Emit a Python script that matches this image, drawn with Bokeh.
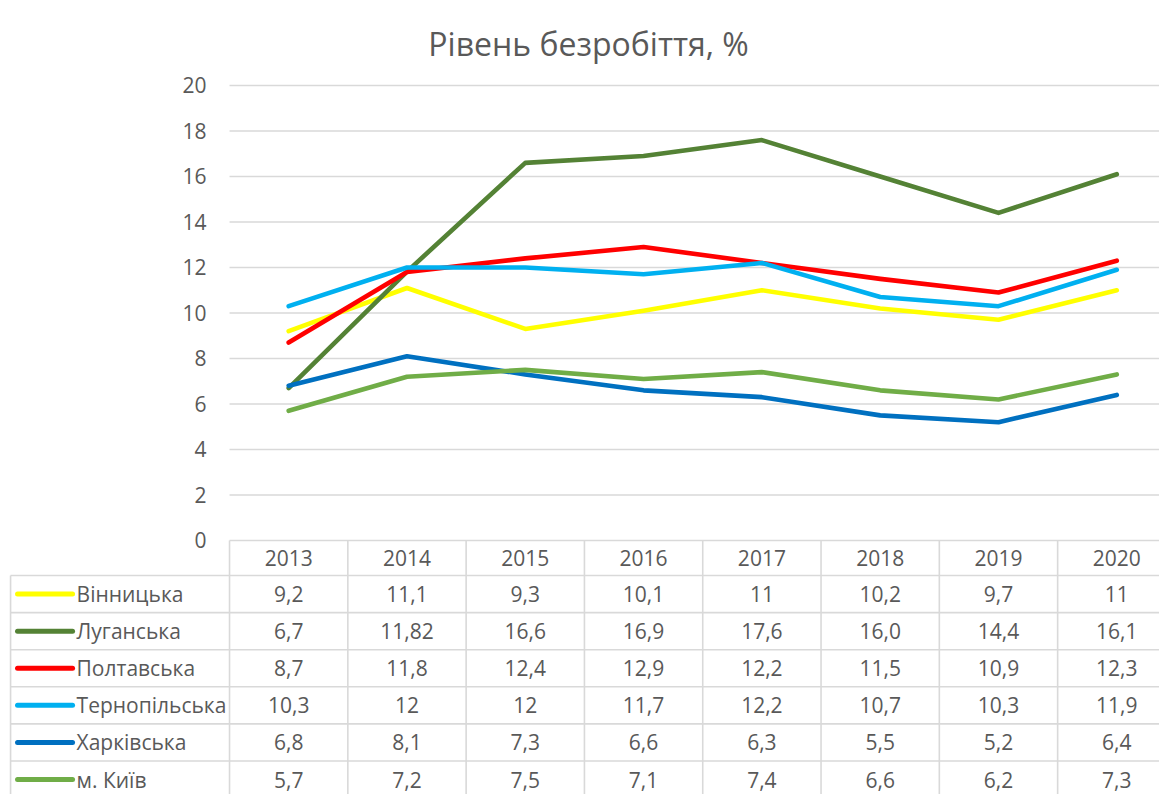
from bokeh.plotting import figure
from bokeh.models import Range1d
from bokeh.core.properties import value
from bokeh.embed import file_html
from bokeh.resources import INLINE

# ---------------- data ----------------
title = "Рівень безробіття, %"
years = ["2013", "2014", "2015", "2016", "2017", "2018", "2019", "2020"]
series_names = ["Вінницька", "Луганська", "Полтавська", "Тернопільська", "Харківська", "м. Київ"]
vinnytska = ["9,2", "11,1", "9,3", "10,1", "11", "10,2", "9,7", "11"]
luhanska = ["6,7", "11,82", "16,6", "16,9", "17,6", "16,0", "14,4", "16,1"]
poltavska = ["8,7", "11,8", "12,4", "12,9", "12,2", "11,5", "10,9", "12,3"]
ternopilska = ["10,3", "12", "12", "11,7", "12,2", "10,7", "10,3", "11,9"]
kharkivska = ["6,8", "8,1", "7,3", "6,6", "6,3", "5,5", "5,2", "6,4"]
kyiv = ["5,7", "7,2", "7,5", "7,1", "7,4", "6,6", "6,2", "7,3"]
series_labels = [vinnytska, luhanska, poltavska, ternopilska, kharkivska, kyiv]
colors = ["#FFFF00", "#548235", "#FF0000", "#00B0F0", "#0070C0", "#70AD47"]
y_ticks = [0, 2, 4, 6, 8, 10, 12, 14, 16, 18, 20]

FONT = "Open Sans"
TXT = "#595959"
GRID = "#D9D9D9"
FS = "21px"

def num(s):
    return float(s.replace(",", "."))

ncols = len(years)
nrows = len(series_names)
xs = [i + 0.5 for i in range(ncols)]

# one figure: value axis (default y range) + data table (extra y range, rows)
p = figure(width=1159, height=794, x_range=Range1d(-1.936, 7.861), y_range=Range1d(-11.165, 23.736),
           output_backend="svg", toolbar_location=None, x_axis_location=None, y_axis_location=None,
           min_border_left=0, min_border_right=0, min_border_top=0, min_border_bottom=0)
p.extra_y_ranges = {"table": Range1d(5.903, -15.499)}
p.outline_line_color = None
p.xgrid.visible = False
p.ygrid.visible = False
p.background_fill_color = "white"
p.border_fill_color = "white"

# value gridlines and tick labels
p.segment(x0=[0] * len(y_ticks), y0=y_ticks, x1=[8.5] * len(y_ticks), y1=y_ticks,
          line_color=GRID, line_width=1.4)
p.text(x=[-0.194] * len(y_ticks), y=y_ticks, text=[str(v) for v in y_ticks],
       text_align="right", text_baseline="middle",
       text_font=value(FONT), text_font_size=FS, text_color=TXT)

# table borders
left_x = -1.851
hy = list(range(nrows + 1))
p.segment(x0=[left_x] * len(hy), y0=hy, x1=[8.5] * len(hy), y1=hy,
          line_color=GRID, line_width=1.6, y_range_name="table")
vx = list(range(ncols + 1))
p.segment(x0=vx, y0=[-0.943] * len(vx), x1=vx, y1=[nrows + 0.5] * len(vx),
          line_color=GRID, line_width=1.6, y_range_name="table")
p.segment(x0=[left_x], y0=[0], x1=[left_x], y1=[nrows + 0.5],
          line_color=GRID, line_width=1.6, y_range_name="table")

# table header
p.text(x=xs, y=[-0.472] * ncols, text=years, text_align="center", text_baseline="middle",
       text_font=value(FONT), text_font_size=FS, text_color=TXT, y_range_name="table")

# table rows with legend keys
for r, (name, labels, c) in enumerate(zip(series_names, series_labels, colors)):
    yc = r + 0.5
    p.text(x=xs, y=[yc] * ncols, text=labels, text_align="center", text_baseline="middle",
           text_font=value(FONT), text_font_size=FS, text_color=TXT, y_range_name="table")
    p.segment(x0=[-1.792], y0=[yc], x1=[-1.327], y1=[yc], line_color=c, line_width=5,
              line_cap="round", y_range_name="table")
    p.text(x=[-1.293], y=[yc], text=[name], text_align="left", text_baseline="middle",
           text_font=value(FONT), text_font_size=FS, text_color=TXT, y_range_name="table")

# series lines
for labels, c in zip(series_labels, colors):
    p.line(x=xs, y=[num(s) for s in labels], line_color=c, line_width=4.6,
           line_cap="round", line_join="round")

# title
p.text(x=[3.035], y=[21.846], text=[title], text_align="center", text_baseline="alphabetic",
       text_font=value(FONT), text_font_size="32px", text_color=TXT)

open("out.html", "w").write(file_html(p, INLINE))
